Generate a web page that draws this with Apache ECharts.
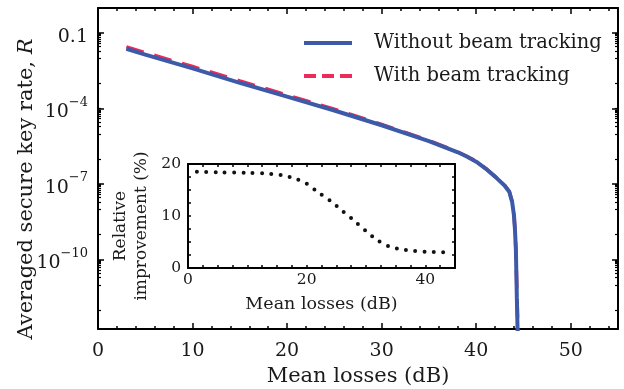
<!DOCTYPE html>
<html>
<head>
<meta charset="utf-8">
<script src="https://cdn.jsdelivr.net/npm/echarts@6/dist/echarts.min.js"></script>
<style>
  html, body { margin: 0; padding: 0; background: #fff; }
  #chart { width: 624px; height: 389px; }
</style>
</head>
<body>
<div id="chart"></div>
<script>
// mean losses (dB) and averaged key rate R
var lossWithout = [3, 5, 10, 15, 20, 25, 30, 35, 38, 39, 40, 41, 42, 43, 43.5, 43.8, 44, 44.1, 44.2, 44.3, 44.45];
var rateWithout = [2.4e-2, 1.4e-2, 4.0e-3, 1.07e-3, 3.0e-4, 8.5e-5, 2.2e-5, 5.2e-6, 1.9e-6, 1.26e-6, 7.9e-7, 4.2e-7, 2.0e-7, 8.9e-8, 5.0e-8, 2.0e-8, 5.6e-9, 1.6e-9, 2.5e-10, 3.2e-12, 1.0e-14];
var lossWith = [3, 5, 10, 15, 20, 25, 30, 35, 38, 39, 40, 41, 42, 43, 43.5, 43.8, 44, 44.1, 44.2, 44.32, 44.5];
var rateWith = [2.85e-2, 1.68e-2, 4.73e-3, 1.27e-3, 3.5e-4, 9.5e-5, 2.4e-5, 5.43e-6, 1.96e-6, 1.29e-6, 8.17e-7, 4.29e-7, 2.05e-7, 9.16e-8, 5.15e-8, 2.06e-8, 5.8e-9, 1.65e-9, 2.6e-10, 3.3e-12, 1.0e-14];

// inset: relative improvement (%)
var insetLoss = [1.5, 5, 10, 14, 16, 18, 20, 22, 24, 26, 28, 30, 32, 34, 36, 38, 40, 44.3];
var insetImprove = [18.5, 18.4, 18.3, 18.1, 17.8, 17.2, 16.2, 14.5, 12.9, 11.0, 9.1, 7.1, 5.3, 4.1, 3.6, 3.3, 3.1, 3.0];

// tick labels
var xLabels = [0, 10, 20, 30, 40, 50];
var yMajor = [1e-10, 1e-7, 1e-4, 0.1];
var insetXLabels = [0, 20, 40];
var insetYLabels = [0, 10, 20];

var FONT = 'DejaVu Serif';
var INK = '#1a1a1a';

function lg(v) { return Math.log10(v); }
function pairs(xs, ys) { return xs.map(function (x, i) { return [x, lg(ys[i])]; }); }

// minor log ticks: decades plus 2..9 of the decade below each major
var yMajorLog = yMajor.map(lg);
var yMinorLog = [];
for (var d = -12; d <= -1; d++) yMinorLog.push(d);
yMajorLog.forEach(function (m) {
  for (var k = 2; k <= 9; k++) yMinorLog.push(m - 1 + Math.log10(k));
});

function yLabel(v) {
  var e = Math.round(v);
  if (e === -1) return '{b|0.1}';
  return '{b|10}{s|\u2212' + (-e) + '}';
}

var line = { onZero: false, lineStyle: { color: '#000', width: 2 } };
var noLine = { show: false, onZero: false };

var chart = echarts.init(document.getElementById('chart'));
chart.setOption({
  animation: false,
  textStyle: { fontFamily: FONT },
  grid: [
    { left: 98, top: 8, width: 520, height: 321, outerBoundsMode: 'none' },
    { left: 188, top: 164, width: 267, height: 104, outerBoundsMode: 'none',
      show: true, backgroundColor: '#fff', borderWidth: 0 }
  ],
  legend: {
    orient: 'vertical',
    left: 297, top: 27,
    itemWidth: 48, itemHeight: 12, itemGap: 11,
    textStyle: { fontFamily: FONT, fontSize: 19.5, color: INK, lineHeight: 22, padding: [0, 0, 0, 17] },
    data: [
      { name: 'Without beam tracking', itemStyle: { opacity: 0 }, lineStyle: { width: 4 } },
      { name: 'With beam tracking', itemStyle: { opacity: 0 }, lineStyle: { width: 4, type: [12, 6] } }
    ]
  },
  graphic: [
    {
      type: 'text', x: 27, y: 189, rotation: Math.PI / 2,
      style: {
        text: 'Averaged secure key rate, {i|R}',
        fontFamily: FONT, fontSize: 21, fill: INK,
        align: 'center', verticalAlign: 'middle',
        rich: { i: { fontStyle: 'italic', fontFamily: FONT, fontSize: 21, fill: INK } }
      }
    },
    {
      type: 'text', x: 131, y: 226, rotation: Math.PI / 2,
      style: {
        text: 'Relative\nimprovement (%)',
        fontFamily: FONT, fontSize: 17, fill: INK, lineHeight: 21,
        align: 'center', verticalAlign: 'middle'
      }
    }
  ],
  xAxis: [
    { // main bottom, minor ticks + labels
      gridIndex: 0, type: 'value', position: 'bottom', min: 0, max: 55, interval: 2,
      axisLine: line, splitLine: { show: false },
      axisTick: { inside: true, length: 3, lineStyle: { color: '#000', width: 1.5 } },
      axisLabel: { customValues: xLabels, fontSize: 19, color: INK, fontFamily: FONT, margin: 13 },
      name: 'Mean losses (dB)', nameLocation: 'middle', nameGap: 36,
      nameTextStyle: { fontSize: 21, color: INK, fontFamily: FONT }
    },
    { // main bottom, major ticks
      gridIndex: 0, type: 'value', position: 'bottom', min: 0, max: 55,
      axisLine: noLine, splitLine: { show: false }, axisLabel: { show: false },
      axisTick: { inside: true, length: 6, customValues: xLabels, lineStyle: { color: '#000', width: 1.5 } }
    },
    { // main top
      gridIndex: 0, type: 'value', position: 'top', min: 0, max: 55, interval: 2,
      axisLine: line, splitLine: { show: false }, axisLabel: { show: false },
      axisTick: { inside: true, length: 3, lineStyle: { color: '#000', width: 1.5 } }
    },
    {
      gridIndex: 0, type: 'value', position: 'top', min: 0, max: 55,
      axisLine: noLine, splitLine: { show: false }, axisLabel: { show: false },
      axisTick: { inside: true, length: 6, customValues: xLabels, lineStyle: { color: '#000', width: 1.5 } }
    },
    { // inset bottom
      gridIndex: 1, type: 'value', position: 'bottom', min: 0, max: 45, interval: 2.5,
      axisLine: line, splitLine: { show: false },
      axisTick: { inside: true, length: 3, lineStyle: { color: '#000', width: 1.5 } },
      axisLabel: { customValues: insetXLabels, fontSize: 15.5, color: INK, fontFamily: FONT, margin: 4 },
      name: 'Mean losses (dB)', nameLocation: 'middle', nameGap: 27,
      nameTextStyle: { fontSize: 17.5, color: INK, fontFamily: FONT }
    },
    { // inset top
      gridIndex: 1, type: 'value', position: 'top', min: 0, max: 45, interval: 2.5,
      axisLine: line, splitLine: { show: false }, axisLabel: { show: false },
      axisTick: { inside: true, length: 3, lineStyle: { color: '#000', width: 1.5 } }
    }
  ],
  yAxis: [
    { // main left, minor ticks
      gridIndex: 0, type: 'value', position: 'left', min: -12.75, max: 0,
      axisLine: line, splitLine: { show: false }, axisLabel: { show: false },
      axisTick: { inside: true, length: 3, customValues: yMinorLog, lineStyle: { color: '#000', width: 1.2 } }
    },
    { // main left, major ticks + labels
      gridIndex: 0, type: 'value', position: 'left', min: -12.75, max: 0,
      axisLine: noLine, splitLine: { show: false },
      axisTick: { inside: true, length: 6, customValues: yMajorLog, lineStyle: { color: '#000', width: 1.5 } },
      axisLabel: {
        customValues: yMajorLog, formatter: yLabel, margin: 10,
        rich: {
          b: { fontSize: 19, fontFamily: FONT, color: INK, lineHeight: 26, verticalAlign: 'bottom' },
          s: { fontSize: 13, fontFamily: FONT, color: INK, lineHeight: 26, verticalAlign: 'top' }
        }
      }
    },
    { // main right
      gridIndex: 0, type: 'value', position: 'right', min: -12.75, max: 0,
      axisLine: line, splitLine: { show: false }, axisLabel: { show: false },
      axisTick: { inside: true, length: 3, customValues: yMinorLog, lineStyle: { color: '#000', width: 1.2 } }
    },
    {
      gridIndex: 0, type: 'value', position: 'right', min: -12.75, max: 0,
      axisLine: noLine, splitLine: { show: false }, axisLabel: { show: false },
      axisTick: { inside: true, length: 6, customValues: yMajorLog, lineStyle: { color: '#000', width: 1.5 } }
    },
    { // inset left
      gridIndex: 1, type: 'value', position: 'left', min: 0, max: 20, interval: 2.5,
      axisLine: line, splitLine: { show: false },
      axisTick: { inside: true, length: 3, lineStyle: { color: '#000', width: 1.5 } },
      axisLabel: { customValues: insetYLabels, fontSize: 15.5, color: INK, fontFamily: FONT, margin: 7 }
    },
    { // inset right
      gridIndex: 1, type: 'value', position: 'right', min: 0, max: 20, interval: 2.5,
      axisLine: line, splitLine: { show: false }, axisLabel: { show: false },
      axisTick: { inside: true, length: 3, lineStyle: { color: '#000', width: 1.5 } }
    }
  ],
  series: [
    {
      name: 'With beam tracking', type: 'line', xAxisIndex: 0, yAxisIndex: 0,
      data: pairs(lossWith, rateWith), showSymbol: false, symbol: 'none', z: 2,
      lineStyle: { color: '#EC2B5A', width: 3.5, type: [18, 11] },
      itemStyle: { color: '#EC2B5A' }
    },
    {
      name: 'Without beam tracking', type: 'line', xAxisIndex: 0, yAxisIndex: 0,
      data: pairs(lossWithout, rateWithout), showSymbol: false, symbol: 'none', z: 3,
      lineStyle: { color: '#3C5AA8', width: 4 },
      itemStyle: { color: '#3C5AA8' }
    },
    {
      name: 'improvement', type: 'line', xAxisIndex: 4, yAxisIndex: 4,
      data: insetLoss.map(function (x, i) { return [x, insetImprove[i]]; }),
      showSymbol: false, symbol: 'none', smooth: 0.3, z: 5,
      lineStyle: { color: '#111', width: 4, type: [0, 9.3], cap: 'round' }
    }
  ]
});
</script>
</body>
</html>
